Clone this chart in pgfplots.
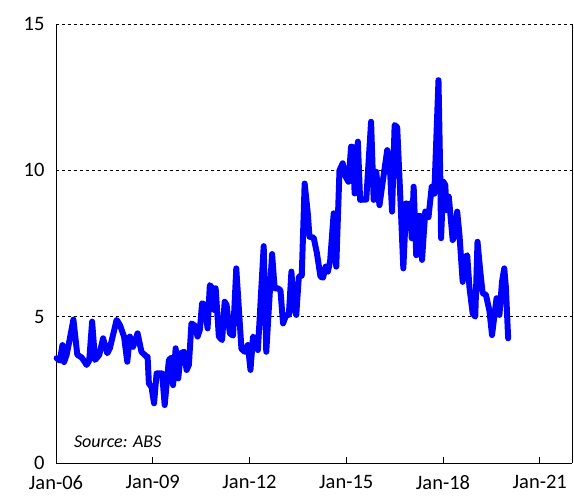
\documentclass[border=0pt]{standalone}
\usepackage{pgfplots}
\pgfplotsset{compat=1.18}
\usepackage{fontspec}
\setmainfont{Carlito}
\usetikzlibrary{calc}
\definecolor{lineblue}{RGB}{0,0,255}
\begin{document}
\begin{tikzpicture}
\begin{axis}[
  scale only axis, width=516bp, height=439bp,
  xmin=0, xmax=16, ymin=0, ymax=15,
  axis x line*=bottom, axis y line*=box,
  axis line style={black, line width=0.8pt},
  xtick={0,3,6,9,12,15},
  xticklabels={Jan-06,Jan-09,Jan-12,Jan-15,Jan-18,Jan-21},
  ytick={0,5,10,15},
  xtick align=inside, major tick length=6bp,
  x tick style={black, line width=0.8pt},
  y tick style={draw=none},
  ymajorgrids, grid style={black, dashed, line width=0.6pt},
  tick label style={font=\fontsize{20.5bp}{24bp}\selectfont},
  /pgf/number format/assume math mode=true,
  xticklabel style={yshift=-9bp},
  yticklabel style={xshift=-8bp},
  clip=false,
]
\addplot[lineblue, line width=6pt, line join=round, line cap=round] coordinates {
(0.02,3.58) (0.12,3.5) (0.20,4.03) (0.25,3.45) (0.33,3.7) (0.42,4.2) (0.54,4.9)
(0.66,3.7) (0.80,3.6) (0.95,3.35) (1.03,3.5) (1.12,4.83) (1.21,3.52) (1.34,3.69)
(1.46,4.26) (1.59,3.75) (1.67,3.92) (1.88,4.89) (1.98,4.72) (2.11,4.32) (2.21,3.46)
(2.29,4.32) (2.39,3.97) (2.53,4.43) (2.65,3.8) (2.81,3.63) (2.84,3.63) (2.88,2.72)
(2.96,2.6) (3.04,2.04) (3.12,3.06) (3.22,3.06) (3.29,3.06) (3.37,1.98) (3.50,3.52)
(3.58,3.6) (3.63,2.66) (3.71,3.92) (3.79,2.89) (3.87,3.75) (3.97,3.8) (4.05,3.18)
(4.12,3.35) (4.20,4.77) (4.30,4.7) (4.39,4.32) (4.46,4.55) (4.53,5.46) (4.61,5.4)
(4.70,4.6) (4.77,6.08) (4.85,5.97) (4.90,5.23) (4.95,5.97) (5.05,4.32) (5.15,4.2)
(5.23,5.51) (5.29,5.4) (5.39,4.43) (5.49,4.35) (5.59,6.65) (5.75,3.9) (5.85,3.8)
(5.95,4.03) (6.03,3.18) (6.11,4.32) (6.19,4.2) (6.26,3.86) (6.44,7.41) (6.52,3.8)
(6.70,7.14) (6.78,5.97) (6.88,5.97) (6.96,5.9) (7.04,4.77) (7.14,5.06) (7.22,5.06)
(7.30,6.54) (7.37,5.3) (7.45,5.06) (7.53,6.37) (7.62,6.4) (7.71,9.55) (7.81,8.5)
(7.86,7.73) (7.99,7.7) (8.09,7.17) (8.20,6.37) (8.28,6.33) (8.36,6.71) (8.43,6.54)
(8.50,6.9) (8.61,8.53) (8.69,6.71) (8.79,10.0) (8.89,10.24) (8.97,9.8) (9.07,9.61)
(9.15,10.81) (9.20,10.8) (9.26,9.21) (9.36,10.98) (9.43,8.99) (9.51,9.0) (9.62,9.0)
(9.77,11.66) (9.85,8.99) (9.93,9.95) (10.03,8.81) (10.13,9.6) (10.27,10.69) (10.34,10.4)
(10.42,8.59) (10.50,11.55) (10.58,11.47) (10.68,9.0) (10.77,6.65) (10.86,8.87) (10.93,8.3)
(10.98,8.87) (11.03,7.68) (11.09,9.44) (11.17,7.1) (11.24,8.44) (11.30,8.44) (11.35,6.94)
(11.45,8.59) (11.55,8.4) (11.65,9.44) (11.73,9.2) (11.86,13.08) (11.92,9.5) (11.94,7.68)
(12.01,9.61) (12.07,9.5) (12.11,8.64) (12.18,9.1) (12.30,7.62) (12.38,7.8) (12.44,8.59)
(12.51,7.8) (12.61,6.19) (12.68,7.0) (12.75,7.1) (12.82,6.0) (12.92,5.11) (13.00,5.0)
(13.07,7.56) (13.16,6.5) (13.23,5.8) (13.33,5.75) (13.44,5.2) (13.52,4.37) (13.59,5.0)
(13.66,5.63) (13.75,5.06) (13.83,6.2) (13.90,6.65) (13.95,6.0) (14.02,4.26)
};
\node[anchor=west, font=\fontsize{18bp}{21bp}\selectfont\itshape] at (axis cs:0.45,0.72) {Source: ABS};
\end{axis}
\pgfresetboundingbox
\path[use as bounding box] ($(current axis.south west)+(-56bp,-41bp)$) rectangle ($(current axis.north east)+(2bp,24bp)$);
\end{tikzpicture}
\end{document}
